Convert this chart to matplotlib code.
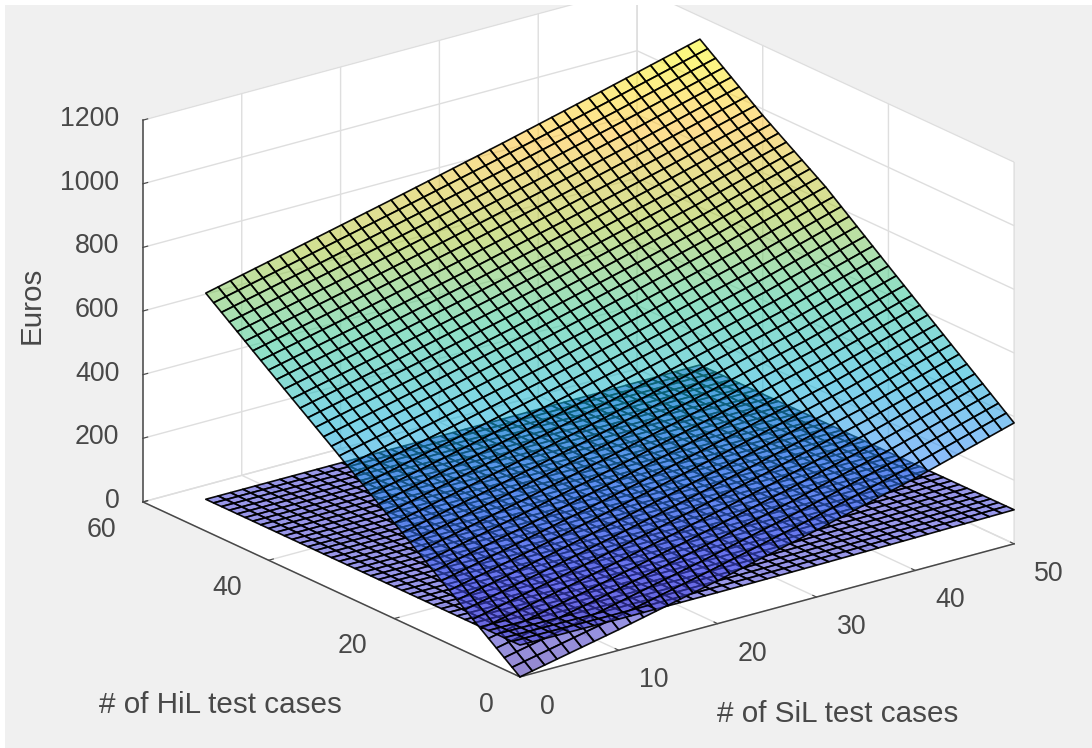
import numpy as np
import matplotlib
matplotlib.use("Agg")
import matplotlib.pyplot as plt
from matplotlib.colors import LinearSegmentedColormap, Normalize
from matplotlib.patches import Rectangle
from mpl_toolkits.mplot3d.art3d import Poly3DCollection

plt.rcParams['font.family'] = ['Liberation Sans', 'DejaVu Sans']

# Heights at the grid nodes (rows: HiL, columns: SiL)
sil_nodes = [0, 10, 20, 30, 40, 50]
hil_nodes = [0, 10, 20, 30, 40, 50]
upper_cost = [
    [0, 65, 135, 210, 290, 380],
    [150, 218, 290, 365, 445, 535],
    [300, 370, 443, 520, 600, 690],
    [450, 522, 596, 675, 757, 847],
    [598, 668, 741, 817, 896, 980],
    [748, 820, 893, 968, 1047, 1128],
]
lower_cost = [
    [100, 98, 98, 100, 103, 107],
    [100, 98, 98, 100, 103, 106],
    [100, 99, 99, 100, 103, 105],
    [100, 99, 99, 100, 102, 105],
    [100, 100, 100, 101, 102, 104],
    [100, 100, 100, 101, 102, 104],
]
sil_ticks = [0, 10, 20, 30, 40, 50]
hil_ticks = [0, 20, 40, 60]
z_ticks = [0, 200, 400, 600, 800, 1000, 1200]
cells = 40

parula = ['#3e26a8', '#4752f4', '#2d87f7', '#12b1d6', '#37c897', '#abc739', '#fec338', '#f9fb15']
cmap = LinearSegmentedColormap.from_list('parula', parula)


def resample(table):
    t = np.asarray(table, float)
    u = np.linspace(0, 50, cells + 1)
    a = np.array([np.interp(u, sil_nodes, row) for row in t])
    return u, np.array([np.interp(u, hil_nodes, col) for col in a.T]).T


W = 941
fig = plt.figure(figsize=(10.92, 7.48), dpi=100, facecolor='#f0f0f0')
ax = fig.add_axes([95.3 / 1092, -67.2 / 748, W / 1092, W / 748],
                  projection='3d', proj_type='ortho')
ax.view_init(elev=20.7, azim=-127.3)
ax.set_box_aspect((621, 622, 408))
ax.patch.set_alpha(0)

verts, cols = [], []
norm = Normalize(0, 1128)
for table in (upper_cost, lower_cost):
    u, Z = resample(table)
    for i in range(cells):
        for j in range(cells):
            verts.append([(u[j], u[i], Z[i, j]), (u[j + 1], u[i], Z[i, j + 1]),
                          (u[j + 1], u[i + 1], Z[i + 1, j + 1]), (u[j], u[i + 1], Z[i + 1, j])])
            c = cmap(norm((Z[i, j] + Z[i, j + 1] + Z[i + 1, j + 1] + Z[i + 1, j]) / 4))
            cols.append((c[0], c[1], c[2], 0.55))
poly = Poly3DCollection(verts, facecolors=cols, edgecolors=(0, 0, 0, 0.95), linewidths=1.2)
ax.add_collection3d(poly)

ax.set_xlim(0, 50)
ax.set_ylim(0, 60)
ax.set_zlim(0, 1200)
ax.set_xticks(sil_ticks)
ax.set_yticks(hil_ticks)
ax.set_zticks(z_ticks)

gray = '#484848'
for axis in (ax.xaxis, ax.yaxis, ax.zaxis):
    axis.set_pane_color((1, 1, 1, 1))
    axis.pane.set_edgecolor((1, 1, 1, 1))
    axis.line.set_color(gray)
    axis.line.set_linewidth(1.1)
    axis._axinfo['grid']['color'] = (0.87, 0.87, 0.87, 1)
    axis._axinfo['grid']['linewidth'] = 1.0
    axis._axinfo['tick']['inward_factor'] = 0.0
    axis._axinfo['tick']['outward_factor'] = 0.12
    axis._axinfo['tick']['color'] = gray
    axis.set_rotate_label(False)

fs = 19.3
label_fs = 21.3
ax.tick_params(axis='x', labelsize=fs, labelcolor=gray, pad=11, color=gray)
ax.tick_params(axis='y', labelsize=fs, labelcolor=gray, pad=11, color=gray)
ax.tick_params(axis='z', labelsize=fs, labelcolor=gray, pad=1.5, color=gray)
for l in ax.get_xticklabels():
    l.set_ha('left')
    l.set_va('center')
for l in ax.get_yticklabels():
    l.set_ha('right')
    l.set_va('center')
for l in ax.get_zticklabels():
    l.set_ha('right')
    l.set_va('center')

ax.set_xlabel('# of SiL test cases', fontsize=label_fs, color=gray, labelpad=45, rotation=0)
ax.set_ylabel('# of HiL test cases', fontsize=label_fs, color=gray, labelpad=58, rotation=0)
ax.set_zlabel('Euros', fontsize=label_fs, color=gray, labelpad=24, rotation=90)

fig.add_artist(Rectangle((0, 1 - 5 / 748), 1, 5 / 748, transform=fig.transFigure,
                         facecolor='white', edgecolor='none', zorder=50))
fig.add_artist(Rectangle((0, 0), 5 / 1092, 1, transform=fig.transFigure,
                         facecolor='white', edgecolor='none', zorder=50))
fig.savefig('out.png', dpi=100, facecolor=fig.get_facecolor())
